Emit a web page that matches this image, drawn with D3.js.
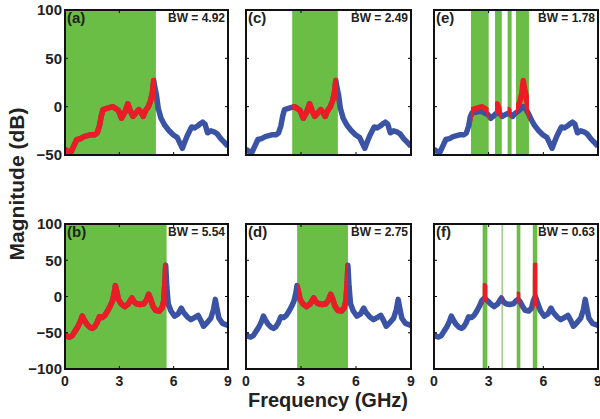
<!DOCTYPE html>
<html>
<head>
<meta charset="utf-8">
<script src="https://cdn.jsdelivr.net/npm/d3@7"></script>
<style>
  body { margin: 0; background: #fff; }
  svg { display: block; font-family: "Liberation Sans", Arial, sans-serif; font-weight: bold; }
</style>
</head>
<body>
<svg id="chart" width="600" height="419"></svg>
<script>
// top row spectrum (a, c, e)
const FREQ_TOP = [0, 0.15, 0.33, 0.5, 0.65, 0.85, 1.05, 1.25, 1.45, 1.65, 1.78, 1.9, 2.0, 2.1, 2.27, 2.45, 2.64, 2.8, 2.95, 3.12, 3.3, 3.47, 3.6, 3.75, 3.94, 4.08, 4.2, 4.32, 4.45, 4.6, 4.72, 4.82, 4.9, 4.96, 5.05, 5.15, 5.3, 5.5, 5.75, 5.97, 6.2, 6.35, 6.48, 6.6, 6.75, 6.99, 7.15, 7.32, 7.45, 7.6, 7.73, 7.87, 8.05, 8.23, 8.4, 8.6, 8.8, 9.0];
const MAG_TOP = [-44, -46, -47, -40, -34, -33, -31, -30, -29, -29, -27, -20, -10, -3, -2, -1, 0, -2, -4, -12, -6, 3, -4, -10, -6, -3, -6, -10, -4, 0, 6, 14, 27, 20, 12, -2, -12, -19, -25, -29, -32, -38, -43, -37, -30, -21, -22, -20, -18, -16, -18, -27, -25, -26, -28, -33, -37, -41];
// (e) blue trace under the red bands
const MAG_TOP_E = [-44, -46, -47, -40, -34, -33, -31, -30, -29, -29, -27, -20, -10, -6, -6, -5, -5, -7, -8, -12, -9, -6, -7, -10, -8, -7, -8, -10, -7, -5, -3, -1, 0, -1, -3, -6, -12, -19, -25, -29, -32, -38, -43, -37, -30, -21, -22, -20, -18, -16, -18, -27, -25, -26, -28, -33, -37, -41];

// bottom row spectrum (b, d, f)
const FREQ_BOT = [0, 0.12, 0.25, 0.4, 0.55, 0.7, 0.82, 0.95, 1.05, 1.2, 1.35, 1.5, 1.62, 1.75, 1.9, 2.05, 2.2, 2.35, 2.5, 2.62, 2.72, 2.78, 2.85, 2.95, 3.1, 3.3, 3.5, 3.62, 3.7, 3.8, 3.95, 4.15, 4.35, 4.5, 4.62, 4.72, 4.85, 5.0, 5.2, 5.35, 5.45, 5.52, 5.56, 5.62, 5.7, 5.85, 6.05, 6.25, 6.42, 6.55, 6.75, 6.95, 7.15, 7.35, 7.5, 7.65, 7.85, 8.05, 8.2, 8.3, 8.38, 8.5, 8.7, 9.0];
const MAG_BOT = [-52, -55, -56, -54, -48, -42, -36, -27, -32, -38, -42, -44, -42, -37, -28, -29, -26, -20, -13, -6, 5, 15, 8, -4, -10, -14, -10, -5, -2, -7, -10, -11, -10, -5, 3, -3, -13, -19, -20, -16, -6, 20, 43, 14, -10, -20, -27, -24, -16, -22, -28, -32, -29, -26, -33, -41, -36, -30, -18, -4, -15, -30, -37, -40];
// (f) blue trace under the red bands
const MAG_BOT_F = [-52, -55, -56, -54, -48, -42, -36, -27, -32, -38, -42, -44, -42, -37, -28, -29, -26, -20, -13, -6, -3, -2, -4, -6, -10, -14, -10, -5, -2, -7, -10, -11, -10, -6, -4, -7, -13, -19, -20, -16, -6, -2, 0, -4, -10, -20, -27, -24, -16, -22, -28, -32, -29, -26, -33, -41, -36, -30, -18, -4, -15, -30, -37, -40];

// passbands (GHz)
const BANDS_A = [[0, 5.02]];
const BANDS_B = [[0, 5.61]];
const BANDS_C = [[2.52, 5.01]];
const BANDS_D = [[2.79, 5.56]];
const BANDS_E = [[2.03, 3.0], [3.35, 3.72], [4.04, 4.26], [4.5, 5.21]];
const BANDS_F = [[2.67, 2.93], [3.71, 3.75], [4.54, 4.74], [5.42, 5.67]];

const LETTERS = ['(a)', '(b)', '(c)', '(d)', '(e)', '(f)'];
const BW_LABELS = ['BW = 4.92', 'BW = 5.54', 'BW = 2.49', 'BW = 2.75', 'BW = 1.78', 'BW = 0.63'];

const X_TICKS = [0, 3, 6, 9];
const Y_TICKS_TOP = [-50, 0, 50, 100];
const Y_TICKS_BOT = [-100, -50, 0, 50, 100];

const GREEN = 'rgb(106,189,69)';
const RED = 'rgb(237,28,36)';
const BLUE = 'rgb(58,83,164)';

const svg = d3.select('#chart');

const cols = [[65, 228], [246, 411], [434, 598]];
const rows = [
  { y: [10, 155], domain: [-50, 100], ticks: Y_TICKS_TOP, freq: FREQ_TOP, mag: MAG_TOP },
  { y: [224, 369], domain: [-100, 100], ticks: Y_TICKS_BOT, freq: FREQ_BOT, mag: MAG_BOT }
];

const bandsList = [BANDS_A, BANDS_B, BANDS_C, BANDS_D, BANDS_E, BANDS_F];
const underMag = [null, null, null, null, MAG_TOP_E, MAG_BOT_F];

cols.forEach((cx, ci) => {
  rows.forEach((row, ri) => {
    const idx = ci * 2 + ri;
    const x = d3.scaleLinear().domain([0, 9]).range(cx);
    const y = d3.scaleLinear().domain(row.domain).range([row.y[1], row.y[0]]);
    const g = svg.append('g');

    const clipId = 'clip' + idx;
    const defs = svg.append('defs');
    defs.append('clipPath').attr('id', clipId)
      .append('rect').attr('x', cx[0]).attr('y', row.y[0])
      .attr('width', cx[1] - cx[0]).attr('height', row.y[1] - row.y[0]);

    const bands = bandsList[idx];
    const bandClip = defs.append('clipPath').attr('id', 'band' + idx);
    bands.forEach(b => {
      bandClip.append('rect')
        .attr('x', x(b[0])).attr('y', row.y[0])
        .attr('width', x(b[1]) - x(b[0])).attr('height', row.y[1] - row.y[0]);
    });

    // green passbands
    g.selectAll('rect.band').data(bands).enter().append('rect')
      .attr('class', 'band')
      .attr('x', d => x(d[0])).attr('y', row.y[0])
      .attr('width', d => Math.max(1, x(d[1]) - x(d[0])))
      .attr('height', row.y[1] - row.y[0])
      .attr('fill', GREEN);

    const line = d3.line().x(d => x(d[0])).y(d => y(d[1]));
    const full = row.freq.map((f, i) => [f, row.mag[i]]);
    const under = underMag[idx] ? row.freq.map((f, i) => [f, underMag[idx][i]]) : full;

    const plot = g.append('g').attr('clip-path', `url(#${clipId})`);
    plot.append('path').datum(under)
      .attr('d', line).attr('fill', 'none').attr('stroke', BLUE)
      .attr('stroke-width', 5.5).attr('stroke-linejoin', 'round');
    plot.append('g').attr('clip-path', `url(#band${idx})`)
      .append('path').datum(full)
      .attr('d', line).attr('fill', 'none').attr('stroke', RED)
      .attr('stroke-width', 5.5).attr('stroke-linejoin', 'round');

    // inward ticks on all sides
    const tl = 3;
    row.ticks.forEach(t => {
      g.append('line').attr('x1', cx[0]).attr('x2', cx[0] + tl).attr('y1', y(t)).attr('y2', y(t)).attr('stroke', '#000');
      g.append('line').attr('x1', cx[1]).attr('x2', cx[1] - tl).attr('y1', y(t)).attr('y2', y(t)).attr('stroke', '#000');
    });
    X_TICKS.forEach(t => {
      g.append('line').attr('x1', x(t)).attr('x2', x(t)).attr('y1', row.y[1]).attr('y2', row.y[1] - tl).attr('stroke', '#000');
      g.append('line').attr('x1', x(t)).attr('x2', x(t)).attr('y1', row.y[0]).attr('y2', row.y[0] + tl).attr('stroke', '#000');
    });

    // frame
    g.append('rect').attr('x', cx[0]).attr('y', row.y[0])
      .attr('width', cx[1] - cx[0]).attr('height', row.y[1] - row.y[0])
      .attr('fill', 'none').attr('stroke', '#111').attr('stroke-width', 2);

    g.append('text').attr('x', cx[0] + 2).attr('y', row.y[0] + 13)
      .attr('font-size', 15).attr('fill', '#222').text(LETTERS[idx]);
    g.append('text').attr('x', cx[1] - 3).attr('y', row.y[0] + 12)
      .attr('text-anchor', 'end').attr('font-size', 12).attr('fill', '#222').text(BW_LABELS[idx]);

    if (ci === 0) {
      g.selectAll('text.yt').data(row.ticks).enter().append('text')
        .attr('class', 'yt')
        .attr('x', cx[0] - 3).attr('y', d => y(d))
        .attr('dy', '0.36em').attr('text-anchor', 'end').attr('font-size', 15)
        .attr('fill', '#222')
        .text(d => d < 0 ? '\u2212' + Math.abs(d) : d);
    }
    if (ri === 1) {
      g.selectAll('text.xt').data(X_TICKS).enter().append('text')
        .attr('class', 'xt')
        .attr('x', d => x(d)).attr('y', row.y[1] + 17)
        .attr('text-anchor', 'middle').attr('font-size', 14)
        .attr('fill', '#222').text(d => d);
    }
  });
});

svg.append('text').attr('x', 328).attr('y', 407)
  .attr('text-anchor', 'middle').attr('font-size', 20).attr('fill', '#222')
  .text('Frequency (GHz)');
svg.append('text').attr('transform', 'translate(24,184) rotate(-90)')
  .attr('text-anchor', 'middle').attr('font-size', 21).attr('fill', '#222')
  .text('Magnitude (dB)');
</script>
</body>
</html>
